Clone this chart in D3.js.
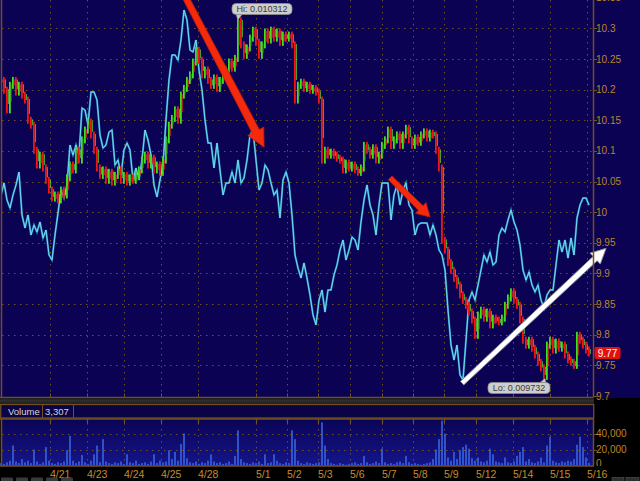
<!DOCTYPE html>
<html><head><meta charset="utf-8">
<script src="https://cdn.jsdelivr.net/npm/d3@7"></script>
<style>html,body{margin:0;padding:0;background:#000;overflow:hidden}</style>
</head><body>
<svg id="c" width="640" height="481"></svg>
<script>
// ---- DATA ----
const closes = [
10.215,10.199,10.167,10.207,10.215,10.196,10.207,10.191,10.183,10.150,
10.142,10.101,10.077,10.093,10.072,10.052,10.036,10.023,10.028,10.020,
10.036,10.028,10.056,10.077,10.069,10.101,10.085,10.118,10.134,10.147,
10.126,10.101,10.072,10.060,10.069,10.052,10.065,10.049,10.060,10.069,
10.052,10.060,10.049,10.056,10.052,10.059,10.069,10.085,10.093,10.077,
10.088,10.069,10.077,10.065,10.085,10.118,10.142,10.153,10.167,10.150,
10.191,10.202,10.215,10.224,10.245,10.264,10.248,10.224,10.232,10.215,
10.207,10.219,10.202,10.215,10.224,10.232,10.245,10.235,10.251,10.312,
10.273,10.256,10.268,10.284,10.297,10.277,10.256,10.273,10.294,10.281,
10.297,10.284,10.294,10.277,10.289,10.284,10.289,10.273,10.183,10.207,
10.212,10.202,10.207,10.199,10.202,10.196,10.183,10.085,10.101,10.093,
10.098,10.093,10.088,10.085,10.069,10.080,10.072,10.077,10.069,10.065,
10.072,10.109,10.101,10.093,10.105,10.085,10.093,10.109,10.118,10.134,
10.109,10.118,10.126,10.109,10.126,10.137,10.118,10.109,10.121,10.114,
10.126,10.131,10.121,10.129,10.126,10.101,10.072,9.954,9.938,9.918,
9.905,9.892,9.881,9.865,9.856,9.848,9.837,9.824,9.799,9.832,
9.840,9.827,9.837,9.816,9.827,9.824,9.821,9.827,9.848,9.860,
9.870,9.856,9.848,9.824,9.791,9.783,9.791,9.778,9.767,9.755,
9.746,9.732,9.783,9.791,9.775,9.788,9.778,9.783,9.767,9.759,
9.755,9.750,9.799,9.791,9.783,9.775,9.770];

const indicator = [
205,217,200,192,205,215,228,185,172,185,
165,175,168,178,162,170,145,140,165,187,
210,202,215,255,245,255,245,292,290,275,
308,308,300,265,252,255,268,270,235,240,
225,250,257,250,220,232,220,240,270,260,
245,215,203,220,235,280,320,345,345,340,
360,390,380,350,348,360,330,310,280,257,
257,232,257,230,205,217,217,228,217,240,
217,222,240,265,270,240,210,217,235,230,
217,205,210,182,220,228,217,185,145,132,
122,137,122,105,85,75,100,110,88,110,
110,125,135,150,160,140,150,163,160,150,
178,200,215,195,185,165,195,217,217,217,
180,205,215,195,210,217,195,190,165,175,
177,177,177,165,175,165,150,145,130,90,
55,40,55,25,20,60,100,108,100,115,
130,145,138,148,135,138,165,172,168,180,
190,178,170,155,130,120,128,115,108,115,
100,92,105,110,110,135,160,148,160,142,
162,145,182,195,202,202,195];

// volume in thousands
const volumes = [
3,2,4,6,25,5,3,8,4,6,
3,20,5,2,4,23,6,3,2,4,
3,5,19,37,6,3,5,13,4,2,
6,14,25,4,33,5,3,2,4,3,
5,2,14,4,3,6,2,3,4,2,
5,14,3,6,4,5,19,8,17,6,
27,40,9,4,3,5,2,4,3,6,
14,5,3,4,2,3,5,2,12,44,
8,4,3,2,4,3,5,2,14,3,
4,14,6,3,2,4,3,44,33,6,
3,2,4,3,2,3,4,54,25,8,
3,2,1,3,2,1,2,3,4,2,
3,12,4,2,3,5,3,21,4,2,
3,2,4,5,3,12,4,2,3,2,
1,2,3,4,8,20,33,56,40,10,
6,17,8,19,23,26,21,9,6,10,
5,4,6,21,14,5,4,3,10,4,
3,5,12,17,23,5,8,4,3,5,
10,4,25,36,6,4,3,5,4,6,
5,8,26,36,23,10,3.307];

const dateLabels = ["4/21","4/23","4/24","4/25","4/28","5/1","5/2","5/3","5/6","5/7","5/8","5/9","5/12","5/14","5/15","5/16"];
const dateIndex  = [16.33,28.67,41,53.33,65.67,85,95.33,105.67,116.33,127,137.33,147.67,158.33,170.67,183,195.33];
const priceTicks = [9.7,9.75,9.8,9.85,9.9,9.95,10,10.05,10.1,10.15,10.2,10.25,10.3,10.35];
const volumeTicks = [0,20,40];
const lastPrice = 9.77;
const hiMark = {index:79, price:10.312, text:"Hi: 0.010312"};
const loMark = {index:181, price:9.732, text:"Lo: 0.009732"};
// annotation arrows: from/to in (bar index, price)
const arrowFrom = [[61.7,10.349],[129.7,10.056],[153.7,9.721]];
const arrowTo   = [[87.7,10.106],[143,9.992],[201.7,9.941]];
const arrowColor = ["#f42a0c","#f42a0c","#ffffff"];

// ---- CHART ----
const svg = d3.select("#c");
const navy = "#0b0254", brown = "#74501f", gridC = "#6c5030", txtC = "#bd852a";
const font = "Liberation Sans, Arial, sans-serif";

const x = d3.scaleLinear().domain([0,196]).range([1,589]);
const y = d3.scaleLinear().domain([9.7,10.35]).range([396,-2.3]);
const yi = d3.scaleLinear().domain([0,400]).range([400,0]);
const yv = d3.scaleLinear().domain([0,58]).range([465.5,419.1]);

const plotR = 593, plotB = 397.5;

svg.append("rect").attr("width",640).attr("height",481).attr("fill","#000");
svg.append("rect").attr("width",640).attr("height",398).attr("fill",navy);

const defs = svg.append("defs");
const cp = defs.append("clipPath").attr("id","plotclip");
cp.append("rect").attr("x",1).attr("y",0).attr("width",plotR-1).attr("height",plotB);
const g = defs.append("linearGradient").attr("id","vg").attr("x1",0).attr("x2",0).attr("y1",0).attr("y2",1);
g.append("stop").attr("offset","0%").attr("stop-color","#0a0456");
g.append("stop").attr("offset","100%").attr("stop-color","#15158a");

// grid
const grid = svg.append("g").attr("stroke",gridC).attr("stroke-dasharray","1.5,4.5").attr("stroke-width",1);
priceTicks.filter(t=>t>9.72 && t<10.33).forEach(t=>{
  grid.append("line").attr("x1",2).attr("x2",plotR).attr("y1",Math.round(y(t))+0.5).attr("y2",Math.round(y(t))+0.5);
});
dateIndex.forEach(d=>{
  grid.append("line").attr("x1",Math.round(x(d))+0.5).attr("x2",Math.round(x(d))+0.5).attr("y1",0).attr("y2",plotB);
});

// right axis
const ax = svg.append("g");
priceTicks.forEach(t=>{
  ax.append("line").attr("x1",plotR).attr("x2",plotR+4).attr("y1",Math.round(y(t))+0.5).attr("y2",Math.round(y(t))+0.5).attr("stroke",brown);
  ax.append("text").attr("x",plotR+3).attr("y",y(t)+3.6).text(d3.format("")(t))
    .attr("fill",txtC).attr("font-family",font).attr("font-size",10);
});

const plot = svg.append("g").attr("clip-path","url(#plotclip)");

// cyan indicator
const line = d3.line().x((d,i)=>x(i)).y(d=>yi(d));
plot.append("path").datum(indicator).attr("d",line).attr("fill","none").attr("stroke","#2288b8").attr("stroke-width",2).attr("stroke-linejoin","miter");
plot.append("path").datum(indicator).attr("d",line).attr("fill","none").attr("stroke","#7ee2f2").attr("stroke-width",0.9).attr("stroke-linejoin","miter");

// price bars
const prev = i => i ? closes[i-1] : closes[i];
plot.append("g").selectAll("rect").data(closes).join("rect")
  .attr("x",(d,i)=>x(i)-1)
  .attr("width",1.8)
  .attr("y",(d,i)=>Math.min(y(prev(i)),y(d))-3.5)
  .attr("height",(d,i)=>Math.abs(y(prev(i))-y(d))+7)
  .attr("fill",(d,i)=>d>=prev(i) ? "#3fe01c" : "#f21416");
// thin wick overlay in opposite colour for the mixed look
plot.append("g").selectAll("rect").data(closes).join("rect")
  .attr("x",(d,i)=>x(i)+0.9)
  .attr("width",1)
  .attr("y",(d,i)=>Math.min(y(prev(i)),y(d))-1)
  .attr("height",(d,i)=>Math.abs(y(prev(i))-y(d))*0.6+3)
  .attr("fill",(d,i)=>d>=prev(i) ? "#e8241c" : "#5ee830").attr("opacity",0.75);

// arrows
function arrow(from,to,color,w,headL,headW){
  const x0=x(from[0]), y0=y(from[1]), x1=x(to[0]), y1=y(to[1]);
  const dx=x1-x0, dy=y1-y0, L=Math.hypot(dx,dy), ux=dx/L, uy=dy/L, px=-uy, py=ux;
  const bx=x1-ux*headL, by=y1-uy*headL;
  const pts=[[x0+px*w/2*0.8,y0+py*w/2*0.8],[bx+px*w/2,by+py*w/2],[bx+px*headW,by+py*headW],[x1,y1],
    [bx-px*headW,by-py*headW],[bx-px*w/2,by-py*w/2],[x0-px*w/2*0.8,y0-py*w/2*0.8]];
  const white = color==="#ffffff";
  svg.append("path").attr("d","M"+pts.map(p=>p.join(",")).join("L")+"Z")
    .attr("fill",color).attr("stroke",white?"#8a8a9a":"#c01a08").attr("stroke-width",white?1:0.8)
    .attr("stroke-linejoin","round");
}
arrow(arrowFrom[0],arrowTo[0],arrowColor[0],8,18,9);
arrow(arrowFrom[1],arrowTo[1],arrowColor[1],6.5,13,7.5);
arrow(arrowFrom[2],arrowTo[2],arrowColor[2],6,15,7.5);

// borders
svg.append("line").attr("x1",1.5).attr("x2",1.5).attr("y1",0).attr("y2",plotB).attr("stroke",brown).attr("stroke-width",1.5);
svg.append("line").attr("x1",plotR+0.5).attr("x2",plotR+0.5).attr("y1",0).attr("y2",plotB).attr("stroke",brown).attr("stroke-width",1.5);
svg.append("line").attr("x1",0).attr("x2",plotR).attr("y1",plotB).attr("y2",plotB).attr("stroke",brown).attr("stroke-width",1.5);
dateIndex.forEach(d=>{
  svg.append("line").attr("x1",Math.round(x(d))+0.5).attr("x2",Math.round(x(d))+0.5).attr("y1",plotB-4).attr("y2",plotB).attr("stroke",brown);
});

// Hi / Lo callouts
function callout(m, bx, by, w, px0, up){
  const cx=x(m.index), cy=y(m.price);
  const gg=svg.append("g");
  const tri = up ? [[px0-3,by],[px0+3,by],[cx+1,cy+2]] : [[px0-3,by+11],[px0+3,by+11],[cx,cy-1]];
  gg.append("path").attr("d","M"+tri.map(p=>p.join(",")).join("L")+"Z").attr("fill","#c9c9c9").attr("stroke","#888").attr("stroke-width",0.6);
  gg.append("rect").attr("x",bx).attr("y",by).attr("width",w).attr("height",11).attr("rx",4)
    .attr("fill","#cdcdcd").attr("stroke","#8c8c8c").attr("stroke-width",0.8);
  gg.append("text").attr("x",bx+w/2).attr("y",by+8.6).attr("text-anchor","middle").text(m.text)
    .attr("fill","#3a3a3a").attr("font-family",font).attr("font-size",9);
}
callout(hiMark, x(hiMark.index)-6, 3.5, 60, x(hiMark.index)+1, false);
callout(loMark, x(loMark.index)-56, 382.5, 62, x(loMark.index)-1, true);

// last price tag
const ly = y(lastPrice);
svg.append("rect").attr("x",plotR+1.5).attr("y",ly-6).attr("width",26).attr("height",12).attr("rx",2).attr("fill","#e2100e");
svg.append("text").attr("x",plotR+14.5).attr("y",ly+4).attr("text-anchor","middle").text(d3.format(".2f")(lastPrice))
  .attr("fill","#fff").attr("font-family",font).attr("font-size",10);

// separator
svg.append("rect").attr("x",0).attr("y",398.3).attr("width",plotR+1).attr("height",5.4).attr("fill","#262626");
svg.append("line").attr("x1",0).attr("x2",plotR+1).attr("y1",400.8).attr("y2",400.8).attr("stroke","#3c3c3c").attr("stroke-dasharray","1,1");

// volume header
svg.append("rect").attr("x",0.75).attr("y",404.5).attr("width",plotR).attr("height",13.5).attr("fill","#0a0444").attr("stroke",brown).attr("stroke-width",1.3);
svg.append("text").attr("x",8).attr("y",414.5).text("Volume").attr("fill","#d6d6d6").attr("font-family",font).attr("font-size",9.5);
svg.append("line").attr("x1",42.5).attr("x2",42.5).attr("y1",404.5).attr("y2",418).attr("stroke",brown);
svg.append("line").attr("x1",73.5).attr("x2",73.5).attr("y1",404.5).attr("y2",418).attr("stroke",brown);
svg.append("text").attr("x",45).attr("y",414.5).text(d3.format(",")(Math.round(volumes[volumes.length-1]*1000)))
  .attr("fill","#d6d6d6").attr("font-family",font).attr("font-size",9.5);

// volume panel
svg.append("rect").attr("x",1).attr("y",419).attr("width",plotR-1).attr("height",47).attr("fill","url(#vg)");
const vgrid = svg.append("g").attr("stroke",gridC).attr("stroke-dasharray","1.5,4.5");
volumeTicks.filter(t=>t>0).forEach(t=>{
  vgrid.append("line").attr("x1",2).attr("x2",plotR).attr("y1",Math.round(yv(t))+0.5).attr("y2",Math.round(yv(t))+0.5);
});
dateIndex.forEach(d=>{
  vgrid.append("line").attr("x1",Math.round(x(d))+0.5).attr("x2",Math.round(x(d))+0.5).attr("y1",423).attr("y2",465);
});
svg.append("g").selectAll("rect").data(volumes).join("rect")
  .attr("x",(d,i)=>x(i)-0.75).attr("width",1.5)
  .attr("y",d=>yv(d)).attr("height",d=>yv(0)-yv(d))
  .attr("fill","#3a6ae6");
svg.append("line").attr("x1",0).attr("x2",plotR+1).attr("y1",419).attr("y2",419).attr("stroke",brown).attr("stroke-width",1.3);
svg.append("line").attr("x1",0).attr("x2",plotR+1).attr("y1",466).attr("y2",466).attr("stroke",brown).attr("stroke-width",1.3);
svg.append("line").attr("x1",1.5).attr("x2",1.5).attr("y1",419).attr("y2",466).attr("stroke",brown).attr("stroke-width",1.5);
svg.append("line").attr("x1",plotR+0.5).attr("x2",plotR+0.5).attr("y1",419).attr("y2",466).attr("stroke",brown).attr("stroke-width",1.5);
dateIndex.forEach(d=>{
  svg.append("line").attr("x1",Math.round(x(d))+0.5).attr("x2",Math.round(x(d))+0.5).attr("y1",419).attr("y2",423).attr("stroke",brown).attr("stroke-width",1.2);
});
const vcl = defs.append("clipPath").attr("id","vclip");
vcl.append("rect").attr("x",590).attr("y",400).attr("width",50).attr("height",66);
const vax = svg.append("g").attr("clip-path","url(#vclip)");
volumeTicks.forEach(t=>{
  vax.append("line").attr("x1",plotR).attr("x2",plotR+4).attr("y1",Math.round(yv(t))+0.5).attr("y2",Math.round(yv(t))+0.5).attr("stroke",brown);
  vax.append("text").attr("x",plotR+3).attr("y",yv(t)+(t===0?1.5:3.6)).text(d3.format(",")(t*1000))
    .attr("fill",txtC).attr("font-family",font).attr("font-size",10);
});

// date labels
dateLabels.forEach((s,k)=>{
  svg.append("text").attr("x",x(dateIndex[k])).attr("y",478).text(s)
    .attr("fill","#c48c2c").attr("font-family",font).attr("font-size",10.5);
});

// bottom toolbar stubs
[[0,12],[15,12],[30,12],[45,12],[60,12]].forEach(([bx,bw])=>{
  svg.append("rect").attr("x",bx+1).attr("y",477.5).attr("width",bw).attr("height",4).attr("rx",1).attr("fill","#3a3a3a");
});
[[612,12],[626,13]].forEach(([bx,bw])=>{
  svg.append("rect").attr("x",bx).attr("y",477.5).attr("width",bw).attr("height",4).attr("fill","#2e2e2e").attr("stroke","#555").attr("stroke-width",0.6);
});
</script>
</body></html>
